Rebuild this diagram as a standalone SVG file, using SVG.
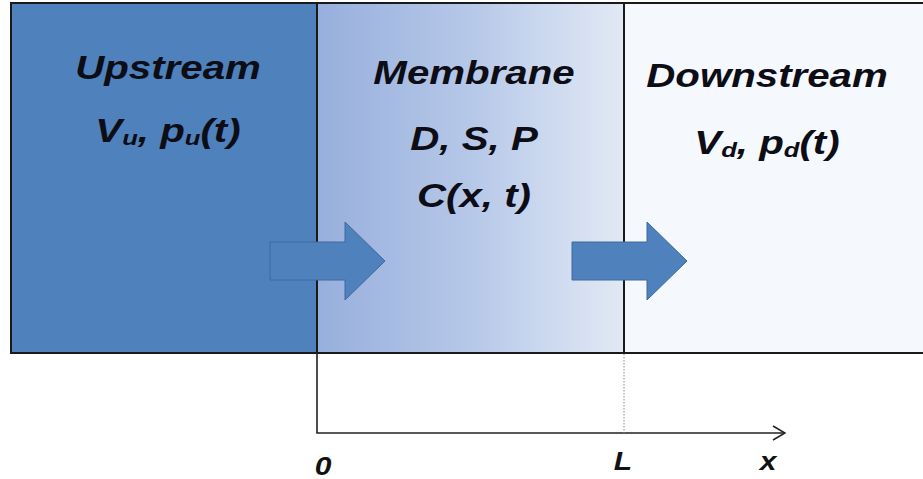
<svg xmlns="http://www.w3.org/2000/svg" width="923" height="479" viewBox="0 0 923 479">
<defs>
<linearGradient id="memGrad" x1="0" y1="0" x2="1" y2="0">
<stop offset="0" stop-color="#97afdd"/>
<stop offset="0.5" stop-color="#b6c8e8"/>
<stop offset="1" stop-color="#e2e9f5"/>
</linearGradient>
<marker id="openArrow" viewBox="0 0 14 16" refX="13" refY="8" markerWidth="14" markerHeight="16" markerUnits="userSpaceOnUse" orient="auto">
<path d="M1,1 L13,8 L1,15" fill="none" stroke="#222" stroke-width="1.6"/>
</marker>
</defs>
<style>
.lbl{font-family:"Liberation Sans",Arial,sans-serif;font-weight:bold;font-style:italic;font-size:33px;fill:#0d0d16;text-anchor:middle}
.sub{font-size:21px}
.ax{font-family:"Liberation Sans",Arial,sans-serif;font-weight:bold;font-style:italic;font-size:25px;fill:#111;text-anchor:middle}
.arrow{fill:#4f81bd;stroke:#3d6a9c;stroke-width:1}
.border{fill:none;stroke:#1a1a1a;stroke-width:2}
</style>
<rect x="0" y="0" width="923" height="479" fill="#ffffff"/>
<g id="upstream">
<rect x="11" y="3" width="306" height="350" fill="#4f81bd"/>
<g transform="translate(168,0) scale(1.22,1)">
<text class="lbl" x="0" y="79">Upstream</text>
<text class="lbl" x="0" y="142">V<tspan class="sub" dy="3">u</tspan><tspan dy="-3">, p</tspan><tspan class="sub" dy="3">u</tspan><tspan dy="-3">(t)</tspan></text>
</g>
</g>
<g id="membrane">
<rect x="317" y="3" width="307" height="350" fill="url(#memGrad)"/>
<g transform="translate(474,0) scale(1.22,1)">
<text class="lbl" x="0" y="84">Membrane</text>
<text class="lbl" x="0" y="150">D, S, P</text>
<text class="lbl" x="0" y="207">C(x, t)</text>
</g>
</g>
<g id="downstream">
<rect x="624" y="3" width="299" height="350" fill="#f5f8fd"/>
<g transform="translate(767,0) scale(1.22,1)">
<text class="lbl" x="0" y="87">Downstream</text>
<text class="lbl" x="0" y="154">V<tspan class="sub" dy="3">d</tspan><tspan dy="-3">, p</tspan><tspan class="sub" dy="3">d</tspan><tspan dy="-3">(t)</tspan></text>
</g>
</g>
<g id="borders">
<path class="border" d="M924,3 L11,3 L11,353 L924,353"/>
<line class="border" x1="317" y1="3" x2="317" y2="353"/>
<line class="border" x1="624" y1="3" x2="624" y2="353"/>
</g>
<g id="connectors">
<path id="arrow-in" class="arrow" d="M270,242 L345,242 L345,222 L385,261 L345,300 L345,280 L270,280 Z"/>
<path id="arrow-out" class="arrow" d="M572,242 L647,242 L647,222 L687,261 L647,300 L647,280 L572,280 Z"/>
<path id="x-axis" d="M317,353 L317,433 L785,433" fill="none" stroke="#222" stroke-width="1.6" marker-end="url(#openArrow)"/>
<line id="L-mark" x1="624" y1="354" x2="624" y2="433" stroke="#888" stroke-width="1" stroke-dasharray="1.5,1.5"/>
</g>
<g id="axis-labels">
<g transform="translate(323,0) scale(1.2,1)"><text class="ax" x="0" y="475">0</text></g>
<g transform="translate(623,0) scale(1.2,1)"><text class="ax" x="0" y="470">L</text></g>
<g transform="translate(768,0) scale(1.2,1)"><text class="ax" x="0" y="470">x</text></g>
</g>
</svg>
